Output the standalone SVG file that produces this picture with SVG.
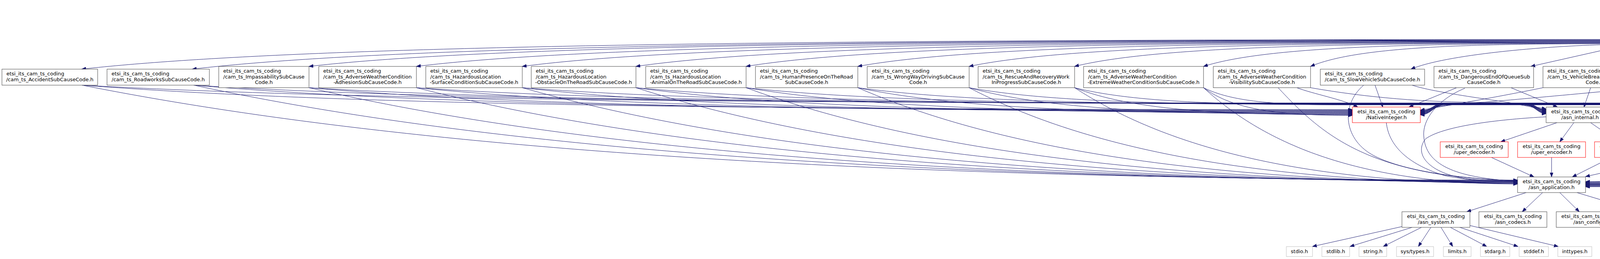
<svg xmlns="http://www.w3.org/2000/svg" width="7490" height="663" viewBox="0 0 7490 663">
<defs>
<style>
text{font-family:"DejaVu Sans","Liberation Sans",sans-serif;font-size:13px;fill:#000}
.m{text-anchor:middle}
.n rect{fill:#fff;stroke:#404040;stroke-width:1}
.n.r rect{stroke:#ff0000}
.n.s rect{stroke:#bfbfbf}
.n.t rect{fill:#bfbfbf}
#edges path{fill:none;stroke:#191970;stroke-width:1;marker-end:url(#ah)}
</style>
<marker id="ah" markerWidth="12" markerHeight="9" refX="11" refY="4" orient="auto" markerUnits="userSpaceOnUse"><path d="M0,0 L11,4 L0,8 z" fill="#191970" stroke="#191970" stroke-width="1"/></marker>
</defs>
<rect x="0" y="0" width="7490" height="663" fill="#fff"/>
<g id="edges">
<path d="M4224,31 L4224,80"/>
<path d="M4119,101 C2164,101 796,112 209,177"/>
<path d="M4119,102 C2306,102 1036,113 492,177"/>
<path d="M4119,103 C2455,103 1290,113 791,170"/>
<path d="M4119,104 C2593,104 1524,114 1066,170"/>
<path d="M4119,105 C2728,105 1754,115 1337,170"/>
<path d="M4119,106 C2874,106 2002,116 1628,170"/>
<path d="M4119,107 C3015,107 2241,116 1910,170"/>
<path d="M4119,108 C3158,108 2485,117 2196,170"/>
<path d="M4119,109 C3300,109 2727,118 2481,170"/>
<path d="M4119,110 C3435,110 2956,119 2751,170"/>
<path d="M4119,111 C3600,111 3237,120 3081,170"/>
<path d="M4119,112 C3737,112 3470,121 3355,170"/>
<path d="M4119,114 C3950,118 3700,140 3612,177"/>
<path d="M4139,120.5 L3919,170"/>
<path d="M4195,120.5 L4123,170"/>
<path d="M4252,120.5 L4338,177"/>
<path d="M4306,120.5 L4518,170"/>
<path d="M4328,110 C4500,125 4700,150 4788,170"/>
<path d="M4328,109 C4680,109 4926,118 5031,170"/>
<path d="M4328,108 C4833,108 5186,117 5337,170"/>
<path d="M4328,107 C4992,107 5457,116 5656,170"/>
<path d="M4328,106 C5119,106 5672,116 5909,170"/>
<path d="M4328,105 C5254,105 5901,115 6179,170"/>
<path d="M4328,104 C5404,104 6156,115 6479,177"/>
<path d="M4328,103 C5508,103 6334,113 6688,170"/>
<path d="M4328,102 C5636,102 6552,112 6944,170"/>
<path d="M4328,101 C5760,101 6762,111 7191,170"/>
<path d="M4328,99.5 C5600,100 7300,128 7440,165 C7475,178 7470,235 7408,274"/>
<path d="M4328,98.5 C5700,99 7350,125 7470,167 C7495,180 7482,240 7478,290 C7475,345 7420,385 7228,406 C6800,440 5000,470 4059,471"/>
<path d="M4328,100 C4800,101 5400,130 5585,160 C5625,175 5625,230 5580,240 C5350,262 4600,282 4132,292"/>
<path d="M210,218 C860,268 1836,280.5 3462,280.5"/>
<path d="M210,218 C856,254 1825,263.5 3440,263.5 L3900,263.5 C3930,263.5 3935,281 3958,281"/>
<path d="M210,218 C945,364 2048,461 3885,461"/>
<path d="M496,218 C1089,269 1979,282 3462,282"/>
<path d="M496,218 C1085,255 1968,264 3440,264 L3900,264 C3930,264 3935,282 3958,282"/>
<path d="M496,218 C1174,364 2191,462 3885,462"/>
<path d="M791,224.5 C1325,272 2127,283.5 3462,283.5"/>
<path d="M791,224.5 C1321,256.5 2116,264.5 3440,264.5 L3900,264.5 C3930,264.5 3935,283 3958,283"/>
<path d="M791,224.5 C1410,368 2338,463 3885,463"/>
<path d="M1066,224.5 C1545,273 2264,285 3462,285"/>
<path d="M1066,224.5 C1541,257 2253,265 3440,265 L3900,265 C3930,265 3935,284 3958,284"/>
<path d="M1066,224.5 C1630,368 2476,464 3885,464"/>
<path d="M1337,224.5 C1762,274 2400,286.5 3462,286.5"/>
<path d="M1337,224.5 C1758,257 2389,265.5 3440,265.5 L3900,265.5 C3930,265.5 3935,285 3958,285"/>
<path d="M1337,224.5 C1847,369 2611,465 3885,465"/>
<path d="M1628,224.5 C1995,275 2545,288 3462,288"/>
<path d="M1628,224.5 C1990,258 2534,266 3440,266 L3900,266 C3930,266 3935,286 3958,286"/>
<path d="M1628,224.5 C2079,369 2757,466 3885,466"/>
<path d="M1910,224.5 C2220,276.5 2686,289.5 3462,289.5"/>
<path d="M1910,224.5 C2216,258 2675,266.5 3440,266.5 L3900,266.5 C3930,266.5 3935,287 3958,287"/>
<path d="M1910,224.5 C2305,370 2898,467 3885,467"/>
<path d="M2196,224.5 C2449,278 2829,291 3462,291"/>
<path d="M2196,224.5 C2445,258.5 2818,267 3440,267 L3900,267 C3930,267 3935,288 3958,288"/>
<path d="M2196,224.5 C2534,371 3041,468 3885,468"/>
<path d="M2481,224.5 C2677,279 2972,292.5 3462,292.5"/>
<path d="M2481,224.5 C2673,259 2961,267.5 3440,267.5 L3900,267.5 C3930,267.5 3935,289 3958,289"/>
<path d="M2481,224.5 C2762,371 3183,469 3885,469"/>
<path d="M2751,224.5 C2893,280 3107,294 3462,294"/>
<path d="M2751,224.5 C2889,259 3096,268 3440,268 L3900,268 C3930,268 3935,290 3958,290"/>
<path d="M2751,224.5 C2978,372 3318,470 3885,470"/>
<path d="M3081,224.5 C3157,281 3272,295.5 3462,295.5"/>
<path d="M3081,224.5 C3153,260 3261,268.5 3440,268.5 L3900,268.5 C3930,268.5 3935,291 3958,291"/>
<path d="M3081,224.5 C3242,372 3483,471 3885,471"/>
<path d="M3320,224.5 C3360,240 3440,255 3476,274"/>
<path d="M3355,224.5 C3500,250 3650,262 3800,262 C3900,262 3930,280 3958,280"/>
<path d="M3272,224.5 C3380,340 3500,455 3885,462"/>
<path d="M3520,218 L3540,274"/>
<path d="M3615,218 C3680,240 3880,262 3958,279"/>
<path d="M3491,218 C3430,270 3440,360 3520,400 C3600,440 3750,458 3885,463"/>
<path d="M3729,224.5 L3607,274"/>
<path d="M3868,224.5 L3987,274"/>
<path d="M3750,226 C3690,250 3640,300 3645,350 C3650,420 3720,455 3885,464"/>
<path d="M3950,224.5 C3850,245 3720,268 3636,282"/>
<path d="M4072,224.5 L4055,274"/>
<path d="M4214,224.5 C4350,260 4520,310 4570,370 C4600,420 4450,445 4300,455 C4200,462 4120,465 4059,465"/>
<path d="M4272,218 C4050,240 3800,262 3700,270 C3670,273 3660,283 3636,283"/>
<path d="M4300,218 L4119,274"/>
<path d="M4415,218 C4500,265 4610,330 4605,380 C4600,430 4450,450 4300,460 C4200,465 4120,466 4059,466"/>
<path d="M4518,224.5 C4441,270 4325,281 4132,281"/>
<path d="M4518,224.5 C4444,255 4334,263.5 4150,263.5 L3700,263.5 C3670,263.5 3665,284 3636,284"/>
<path d="M4646,224.5 C4665,300 4650,400 4450,440 C4300,465 4150,467 4059,467"/>
<path d="M4788,224.5 C4657,270 4460,282 4132,282"/>
<path d="M4788,224.5 C4660,256 4469,264 4150,264 L3700,264 C3670,264 3665,285 3636,285"/>
<path d="M4875,224.5 C4800,320 4700,400 4450,445 C4300,466 4150,468 4059,468"/>
<path d="M5031,224.5 C4851,271 4582,283 4132,283"/>
<path d="M5031,224.5 C4855,256.5 4591,264.5 4150,264.5 L3700,264.5 C3670,264.5 3665,286 3636,286"/>
<path d="M5125,224.5 C4912,372 4592,470 4059,470"/>
<path d="M5337,224.5 C5096,272 4735,284 4132,284"/>
<path d="M5337,224.5 C5100,257 4744,265 4150,265 L3700,265 C3670,265 3665,287 3636,287"/>
<path d="M5389,224.5 C5123,372 4724,471 4059,471"/>
<path d="M5656,224.5 C5351,273 4894,285 4132,285"/>
<path d="M5656,224.5 C5355,257 4903,265.5 4150,265.5 L3700,265.5 C3670,265.5 3665,288 3636,288"/>
<path d="M5677,224.5 C5353,373 4868,472 4059,472"/>
<path d="M5909,224.5 C5554,274 5021,286 4132,286"/>
<path d="M5909,224.5 C5557,258 5030,266 4150,266 L3700,266 C3670,266 3665,289 3636,289"/>
<path d="M5930,224.5 C5556,373 4995,473 4059,473"/>
<path d="M6179,224.5 C5770,274.5 5156,287 4132,287"/>
<path d="M6179,224.5 C5773,258 5165,266.5 4150,266.5 L3700,266.5 C3670,266.5 3665,290 3636,290"/>
<path d="M6200,224.5 C5772,374 5130,474 4059,474"/>
<path d="M6485,218 C6014,274 5309,288 4132,288"/>
<path d="M6485,218 C6018,257 5318,267 4150,267 L3700,267 C3670,267 3665,291 3636,291"/>
<path d="M6500,218 C6012,372 5280,475 4059,475"/>
<path d="M6688,224.5 C6177,276 5410,289 4132,289"/>
<path d="M6688,224.5 C6180,259 5419,267.5 4150,267.5 L3700,267.5 C3670,267.5 3665,292 3636,292"/>
<path d="M6709,224.5 C6179,375 5384,476 4059,476"/>
<path d="M6944,224.5 C6382,277 5538,290 4132,290"/>
<path d="M6944,224.5 C6385,259 5547,268 4150,268 L3700,268 C3670,268 3665,293 3636,293"/>
<path d="M6965,224.5 C6384,376 5512,477 4059,477"/>
<path d="M7191,224.5 C6579,278 5662,291 4132,291"/>
<path d="M7191,224.5 C6583,260 5671,268.5 4150,268.5 L3700,268.5 C3670,268.5 3665,294 3636,294"/>
<path d="M7212,224.5 C6581,376 5636,478 4059,478"/>
<path d="M3549,314 C3555,370 3600,420 3700,450 C3780,465 3840,466 3885,466"/>
<path d="M3958,299 C3850,305 3700,320 3650,355 C3620,390 3650,440 3750,457 C3800,463 3850,464 3885,464"/>
<path d="M3986,314 L3842,363"/>
<path d="M4029,314 L3993,363"/>
<path d="M4072,314 L4143,363"/>
<path d="M4115,314 L4292,363"/>
<path d="M4132,304 L4489,370"/>
<path d="M3818,403 L3927,453"/>
<path d="M3972,403 L3972,453"/>
<path d="M4125,403 L4025,453"/>
<path d="M4280,403 L4059,452"/>
<path d="M7336,314 C7290,370 7200,400 6875,424 C6200,455 4800,470 4059,470"/>
<path d="M3907,493 L3755,542"/>
<path d="M3949,493 L3897,542"/>
<path d="M3993,493 L4043,542"/>
<path d="M4037,493 L4200,542"/>
<path d="M3589,580 L3360,631"/>
<path d="M3615,582 L3456,631"/>
<path d="M3639,582 L3541,631"/>
<path d="M3663,582 L3631,631"/>
<path d="M3689,582 L3719,631"/>
<path d="M3713,582 L3806,631"/>
<path d="M3737,582 L3886,631"/>
<path d="M3762,577 L3989,631"/>
</g>
<g id="n_cause_c" class="n t"><rect x="4121.5" y="6" width="205" height="25"/><text class="m" x="4224" y="22.4">cam_ts_CauseCodeChoice.c</text></g>
<g id="n_cause_h" class="n"><rect x="4119" y="80.3" width="209" height="40.3"/><text x="4130.5" y="96.7">etsi_its_cam_ts_coding</text><text class="m" x="4223.5" y="111">/cam_ts_CauseCodeChoice.h</text></g>
<g id="n_accident" class="n"><rect x="5" y="177" width="245" height="41"/><text x="16.5" y="193.4">etsi_its_cam_ts_coding</text><text class="m" x="127.5" y="207.7">/cam_ts_AccidentSubCauseCode.h</text></g>
<g id="n_roadworks" class="n"><rect x="274" y="177" width="262" height="41"/><text x="285.5" y="193.4">etsi_its_cam_ts_coding</text><text class="m" x="405" y="207.7">/cam_ts_RoadworksSubCauseCode.h</text></g>
<g id="n_impass" class="n"><rect x="560" y="170" width="231" height="54.5"/><text x="571.5" y="186.4">etsi_its_cam_ts_coding</text><text x="571.5" y="200.7">/cam_ts_ImpassabilitySubCause</text><text class="m" x="675.5" y="215">Code.h</text></g>
<g id="n_adhesion" class="n"><rect x="816" y="170" width="250" height="54.5"/><text x="827.5" y="186.4">etsi_its_cam_ts_coding</text><text x="827.5" y="200.7">/cam_ts_AdverseWeatherCondition</text><text class="m" x="941" y="215">-AdhesionSubCauseCode.h</text></g>
<g id="n_surface" class="n"><rect x="1090" y="170" width="247" height="54.5"/><text x="1101.5" y="186.4">etsi_its_cam_ts_coding</text><text x="1101.5" y="200.7">/cam_ts_HazardousLocation</text><text class="m" x="1213.5" y="215">-SurfaceConditionSubCauseCode.h</text></g>
<g id="n_obstacle" class="n"><rect x="1360" y="170" width="268" height="54.5"/><text x="1371.5" y="186.4">etsi_its_cam_ts_coding</text><text x="1371.5" y="200.7">/cam_ts_HazardousLocation</text><text class="m" x="1494" y="215">-ObstacleOnTheRoadSubCauseCode.h</text></g>
<g id="n_animal" class="n"><rect x="1653" y="170" width="257" height="54.5"/><text x="1664.5" y="186.4">etsi_its_cam_ts_coding</text><text x="1664.5" y="200.7">/cam_ts_HazardousLocation</text><text class="m" x="1781.5" y="215">-AnimalOnTheRoadSubCauseCode.h</text></g>
<g id="n_humanpres" class="n"><rect x="1934" y="170" width="262" height="54.5"/><text x="1945.5" y="186.4">etsi_its_cam_ts_coding</text><text x="1945.5" y="200.7">/cam_ts_HumanPresenceOnTheRoad</text><text class="m" x="2065" y="215">SubCauseCode.h</text></g>
<g id="n_wrongway" class="n"><rect x="2220" y="170" width="261" height="54.5"/><text x="2231.5" y="186.4">etsi_its_cam_ts_coding</text><text x="2231.5" y="200.7">/cam_ts_WrongWayDrivingSubCause</text><text class="m" x="2350.5" y="215">Code.h</text></g>
<g id="n_rescue" class="n"><rect x="2504" y="170" width="247" height="54.5"/><text x="2515.5" y="186.4">etsi_its_cam_ts_coding</text><text x="2515.5" y="200.7">/cam_ts_RescueAndRecoveryWork</text><text class="m" x="2627.5" y="215">InProgressSubCauseCode.h</text></g>
<g id="n_extreme" class="n"><rect x="2774" y="170" width="307" height="54.5"/><text x="2785.5" y="186.4">etsi_its_cam_ts_coding</text><text x="2785.5" y="200.7">/cam_ts_AdverseWeatherCondition</text><text class="m" x="2927.5" y="215">-ExtremeWeatherConditionSubCauseCode.h</text></g>
<g id="n_visibility" class="n"><rect x="3106" y="170" width="249" height="54.5"/><text x="3117.5" y="186.4">etsi_its_cam_ts_coding</text><text x="3117.5" y="200.7">/cam_ts_AdverseWeatherCondition</text><text class="m" x="3230.5" y="215">-VisibilitySubCauseCode.h</text></g>
<g id="n_slowveh" class="n"><rect x="3380" y="177" width="267" height="41"/><text x="3391.5" y="193.4">etsi_its_cam_ts_coding</text><text class="m" x="3513.5" y="207.7">/cam_ts_SlowVehicleSubCauseCode.h</text></g>
<g id="n_deoq" class="n"><rect x="3671" y="170" width="255" height="54.5"/><text x="3682.5" y="186.4">etsi_its_cam_ts_coding</text><text x="3682.5" y="200.7">/cam_ts_DangerousEndOfQueueSub</text><text class="m" x="3798.5" y="215">CauseCode.h</text></g>
<g id="n_vbreak" class="n"><rect x="3950" y="170" width="264" height="54.5"/><text x="3961.5" y="186.4">etsi_its_cam_ts_coding</text><text x="3961.5" y="200.7">/cam_ts_VehicleBreakdownSubCause</text><text class="m" x="4082" y="215">Code.h</text></g>
<g id="n_postcrash" class="n"><rect x="4239" y="177" width="255" height="41"/><text x="4250.5" y="193.4">etsi_its_cam_ts_coding</text><text class="m" x="4366.5" y="207.7">/cam_ts_PostCrashSubCauseCode.h</text></g>
<g id="n_humanprob" class="n"><rect x="4518" y="170" width="245" height="54.5"/><text x="4529.5" y="186.4">etsi_its_cam_ts_coding</text><text x="4529.5" y="200.7">/cam_ts_HumanProblemSubCause</text><text class="m" x="4640.5" y="215">Code.h</text></g>
<g id="n_stationary" class="n"><rect x="4788" y="170" width="219" height="54.5"/><text x="4799.5" y="186.4">etsi_its_cam_ts_coding</text><text x="4799.5" y="200.7">/cam_ts_StationaryVehicleSub</text><text class="m" x="4897.5" y="215">CauseCode.h</text></g>
<g id="n_emergency" class="n"><rect x="5031" y="170" width="281" height="54.5"/><text x="5042.5" y="186.4">etsi_its_cam_ts_coding</text><text x="5042.5" y="200.7">/cam_ts_EmergencyVehicleApproaching</text><text class="m" x="5171.5" y="215">SubCauseCode.h</text></g>
<g id="n_dcurve" class="n"><rect x="5337" y="170" width="244" height="54.5"/><text x="5348.5" y="186.4">etsi_its_cam_ts_coding</text><text x="5348.5" y="200.7">/cam_ts_HazardousLocation</text><text class="m" x="5459" y="215">-DangerousCurveSubCauseCode.h</text></g>
<g id="n_collision" class="n"><rect x="5656" y="170" width="228" height="54.5"/><text x="5667.5" y="186.4">etsi_its_cam_ts_coding</text><text x="5667.5" y="200.7">/cam_ts_CollisionRiskSubCause</text><text class="m" x="5770" y="215">Code.h</text></g>
<g id="n_traffic" class="n"><rect x="5909" y="170" width="246" height="54.5"/><text x="5920.5" y="186.4">etsi_its_cam_ts_coding</text><text x="5920.5" y="200.7">/cam_ts_TrafficConditionSubCause</text><text class="m" x="6032" y="215">Code.h</text></g>
<g id="n_signal" class="n"><rect x="6179" y="170" width="242" height="54.5"/><text x="6190.5" y="186.4">etsi_its_cam_ts_coding</text><text x="6190.5" y="200.7">/cam_ts_SignalViolationSubCause</text><text class="m" x="6300" y="215">Code.h</text></g>
<g id="n_subcausetype" class="n"><rect x="6445" y="177" width="219" height="41"/><text x="6456.5" y="193.4">etsi_its_cam_ts_coding</text><text class="m" x="6554.5" y="207.7">/cam_ts_SubCauseCodeType.h</text></g>
<g id="n_dsituation" class="n"><rect x="6688" y="170" width="232" height="54.5"/><text x="6699.5" y="186.4">etsi_its_cam_ts_coding</text><text x="6699.5" y="200.7">/cam_ts_DangerousSituationSub</text><text class="m" x="6804" y="215">CauseCode.h</text></g>
<g id="n_railway" class="n"><rect x="6944" y="170" width="223" height="54.5"/><text x="6955.5" y="186.4">etsi_its_cam_ts_coding</text><text x="6955.5" y="200.7">/cam_ts_RailwayLevelCrossing</text><text class="m" x="7055.5" y="215">SubCauseCode.h</text></g>
<g id="n_precip" class="n"><rect x="7191" y="170" width="250" height="54.5"/><text x="7202.5" y="186.4">etsi_its_cam_ts_coding</text><text x="7202.5" y="200.7">/cam_ts_AdverseWeatherCondition</text><text class="m" x="7316" y="215">-PrecipitationSubCauseCode.h</text></g>
<g id="n_nativeint" class="n r"><rect x="3462" y="274" width="174" height="40"/><text class="m" x="3549" y="290.4">etsi_its_cam_ts_coding</text><text class="m" x="3549" y="304.7">/NativeInteger.h</text></g>
<g id="n_asn_internal" class="n"><rect x="3958" y="274" width="174" height="40"/><text class="m" x="4045" y="290.4">etsi_its_cam_ts_coding</text><text class="m" x="4045" y="304.7">/asn_internal.h</text></g>
<g id="n_constr_choice" class="n"><rect x="7274" y="274" width="174" height="40"/><text class="m" x="7361" y="290.4">etsi_its_cam_ts_coding</text><text class="m" x="7361" y="304.7">/constr_CHOICE.h</text></g>
<g id="n_uper_dec" class="n r"><rect x="3687" y="363" width="174" height="40"/><text class="m" x="3774" y="379.4">etsi_its_cam_ts_coding</text><text class="m" x="3774" y="393.7">/uper_decoder.h</text></g>
<g id="n_uper_enc" class="n r"><rect x="3885" y="363" width="174" height="40"/><text class="m" x="3972" y="379.4">etsi_its_cam_ts_coding</text><text class="m" x="3972" y="393.7">/uper_encoder.h</text></g>
<g id="n_aper_dec" class="n r"><rect x="4082" y="363" width="174" height="40"/><text class="m" x="4169" y="379.4">etsi_its_cam_ts_coding</text><text class="m" x="4169" y="393.7">/aper_decoder.h</text></g>
<g id="n_aper_enc" class="n r"><rect x="4280" y="363" width="174" height="40"/><text class="m" x="4367" y="379.4">etsi_its_cam_ts_coding</text><text class="m" x="4367" y="393.7">/aper_encoder.h</text></g>
<g id="n_assert" class="n s"><rect x="4477" y="370.4" width="75" height="25.4"/><text class="m" x="4514.5" y="387">assert.h</text></g>
<g id="n_asn_app" class="n"><rect x="3885" y="453" width="174" height="40"/><text class="m" x="3972" y="469.4">etsi_its_cam_ts_coding</text><text class="m" x="3972" y="483.7">/asn_application.h</text></g>
<g id="n_asn_system" class="n"><rect x="3589" y="542" width="174" height="40"/><text class="m" x="3676" y="558.4">etsi_its_cam_ts_coding</text><text class="m" x="3676" y="572.7">/asn_system.h</text></g>
<g id="n_asn_codecs" class="n"><rect x="3786" y="542" width="174" height="40"/><text class="m" x="3873" y="558.4">etsi_its_cam_ts_coding</text><text class="m" x="3873" y="572.7">/asn_codecs.h</text></g>
<g id="n_asn_config" class="n"><rect x="3984" y="542" width="174" height="40"/><text class="m" x="4071" y="558.4">etsi_its_cam_ts_coding</text><text class="m" x="4071" y="572.7">/asn_config.h</text></g>
<g id="n_constr_type" class="n r"><rect x="4181" y="542" width="174" height="40"/><text class="m" x="4268" y="558.4">etsi_its_cam_ts_coding</text><text class="m" x="4268" y="572.7">/constr_TYPE.h</text></g>
<g id="n_stdio" class="n s"><rect x="3293" y="631.3" width="67" height="25.4"/><text class="m" x="3326.5" y="647.5">stdio.h</text></g>
<g id="n_stdlib" class="n s"><rect x="3384" y="631.3" width="71" height="25.4"/><text class="m" x="3419.5" y="647.5">stdlib.h</text></g>
<g id="n_string" class="n s"><rect x="3479" y="631.3" width="71" height="25.4"/><text class="m" x="3514.5" y="647.5">string.h</text></g>
<g id="n_systypes" class="n s"><rect x="3575" y="631.3" width="95" height="25.4"/><text class="m" x="3622.5" y="647.5">sys/types.h</text></g>
<g id="n_limits" class="n s"><rect x="3695" y="631.3" width="71" height="25.4"/><text class="m" x="3730.5" y="647.5">limits.h</text></g>
<g id="n_stdarg" class="n s"><rect x="3790" y="631.3" width="75" height="25.4"/><text class="m" x="3827.5" y="647.5">stdarg.h</text></g>
<g id="n_stddef" class="n s"><rect x="3889" y="631.3" width="75" height="25.4"/><text class="m" x="3926.5" y="647.5">stddef.h</text></g>
<g id="n_inttypes" class="n s"><rect x="3988" y="631.3" width="87" height="25.4"/><text class="m" x="4031.5" y="647.5">inttypes.h</text></g>
</svg>
